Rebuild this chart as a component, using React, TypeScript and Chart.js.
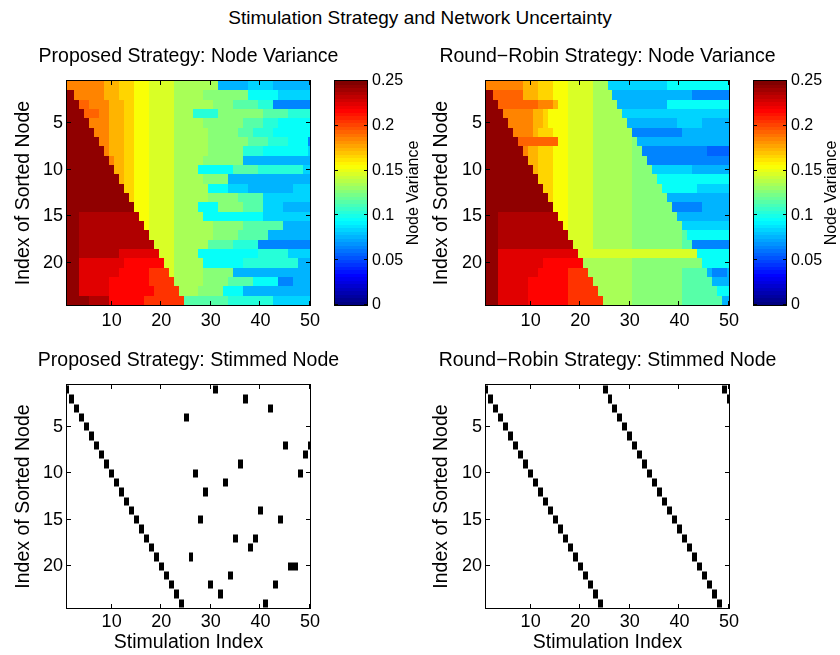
import React, { useEffect, useRef } from "react";
import { Chart, registerables } from "chart.js";
Chart.register(...registerables);

const FONT = "'Liberation Sans', Arial, Helvetica, sans-serif";

// ---------- data ----------
const stimulationIndex = [1,2,3,4,5,6,7,8,9,10,11,12,13,14,15,16,17,18,19,20,21,22,23,24,25,26,27,28,29,30,31,32,33,34,35,36,37,38,39,40,41,42,43,44,45,46,47,48,49,50];
const sortedNodeIndex = [1,2,3,4,5,6,7,8,9,10,11,12,13,14,15,16,17,18,19,20,21,22,23,24];
const xTickValues = [10, 20, 30, 40, 50];
const yTickValues = [5, 10, 15, 20];
const colorbarTicks = [0, 0.05, 0.1, 0.15, 0.2, 0.25];
const varianceRange = [0, 0.25];

// quantised variance levels
const levelCodes = "ABCDEFGHIJKLMNOPQRST";
const levelValues = [0.245, 0.235, 0.225, 0.215, 0.205, 0.195, 0.185, 0.175, 0.165, 0.155, 0.145, 0.135, 0.125, 0.115, 0.105, 0.095, 0.085, 0.075, 0.065, 0.055];

// each row: run-length list "<level><count>" across the 50 stimulation steps
const proposedVariance = [
  "G8 H3 I3 J3 K5 L9 R6 Q5 R8",
  "A2 G6 H3 I3 J3 K5 L6 M9 P6 Q7",
  "A3 F2 G4 H3 I2 J3 K5 L8 M4 N5 O3 S8",
  "A4 F3 G2 H3 I2 J3 K5 L4 O5 M9 N5 O5",
  "A5 G4 H3 I2 J3 K5 L6 M8 N4 O3 P7",
  "A6 G3 H3 I2 J3 K5 L7 M6 N3 O4 P8",
  "A7 G2 H3 I2 J3 K5 L7 M8 N4 O4 P4 S1",
  "A8 G1 H3 I2 J3 K5 L7 M7 O4 P9 Q1",
  "A9 G1 H2 I2 J3 K5 L6 M8 R14",
  "A10 H2 I2 J3 K5 L5 P7 N5 O9 Q2",
  "A11 H1 I2 J3 K5 L6 M5 R17",
  "A12 I2 J3 K5 L7 P4 Q4 R9 Q4",
  "A13 I1 J3 K5 L7 M6 N5 Q10",
  "A14 J3 K5 L5 P4 M5 N4 Q4 R6",
  "A3 B12 J2 K5 L6 P12 Q10",
  "A3 B13 J1 K5 L8 M6 N8 R6",
  "A3 B14 K5 L8 M5 N6 R9",
  "A3 B15 K4 L7 N5 O5 S11",
  "A3 B8 C8 K3 L5 P12 O6 Q5",
  "A3 C9 D8 K2 L6 P8 O11 R3",
  "A3 C8 D6 E4 K1 L6 M6 R16",
  "A3 C6 D8 E5 L6 M5 N5 P5 S3 R4",
  "A3 C6 D9 E5 L4 M5 P4 R14",
  "A5 B4 D7 E8 N9 O9 Q8",
];

const roundRobinVariance = [
  "G8 H3 I3 J3 K5 L3 Q12 P13",
  "A2 F6 H3 I3 J3 K5 L4 R16 S8",
  "A3 F8 G3 H1 J2 K5 L5 R10 P13",
  "A4 G6 H2 I1 J4 K5 L6 Q22",
  "A5 G5 H2 I1 J4 K5 L7 R10 Q5 R6",
  "A6 G4 H1 I3 J3 K5 L8 S10 R10",
  "A7 F8 J2 K5 L8 M1 R19",
  "A8 G1 H2 I3 J3 K5 L8 M2 S13 T5",
  "A9 H2 I3 J3 K5 L8 M3 S17",
  "A10 H1 I3 J3 K5 L8 M4 Q8 R8",
  "A11 I3 J3 K5 L8 M5 P15",
  "A12 I2 J3 K5 L8 M6 P7 Q7",
  "A13 I1 J3 K5 L8 M7 R13",
  "A14 J3 K5 L8 M8 S6 R6",
  "A3 B12 J2 K5 L8 M9 R11",
  "A3 B13 J1 K5 L8 M10 Q10",
  "A3 B14 K5 L8 M10 N1 P9",
  "A3 B15 K4 L8 M10 N2 S8",
  "A3 C16 K24 P7",
  "A3 C9 D8 L10 M14 P6",
  "A3 C8 D6 E4 L9 M10 N5 R1 S3 R1",
  "A3 C6 D8 E5 L8 M10 N6 R4",
  "A3 C6 D8 E6 L7 M10 N7 P3",
  "A3 C6 D8 E7 L6 M10 N8 R2",
];

const proposedStimmedNode = [1,2,3,4,5,6,7,8,9,10,11,12,13,14,15,16,17,18,19,20,21,22,23,24,4,19,10,15,12,22,1,23,11,21,17,9,2,18,17,14,24,3,22,15,7,20,20,10,8,7];
const roundRobinStimmedNode = [1,2,3,4,5,6,7,8,9,10,11,12,13,14,15,16,17,18,19,20,21,22,23,24,1,2,3,4,5,6,7,8,9,10,11,12,13,14,15,16,17,18,19,20,21,22,23,24,1,2];

// ---------- helpers ----------
type Cell = { x: number; y: number; v: number };

function decodeRow(row: string): number[] {
  const out: number[] = [];
  row.split(" ").forEach((tok) => {
    const lvl = levelValues[levelCodes.indexOf(tok[0])];
    const n = parseInt(tok.slice(1), 10);
    for (let i = 0; i < n; i++) out.push(lvl);
  });
  return out;
}

function varianceCells(rows: string[]): Cell[] {
  const cells: Cell[] = [];
  rows.forEach((row, ri) => {
    decodeRow(row).forEach((v, ci) => cells.push({ x: stimulationIndex[ci], y: sortedNodeIndex[ri], v }));
  });
  return cells;
}

function stimCells(nodes: number[]): Cell[] {
  return nodes.map((n, i) => ({ x: stimulationIndex[i], y: n, v: 1 }));
}

function jetRGB(t: number): string {
  const c = (x: number) => Math.round(255 * Math.min(1, Math.max(0, x)));
  return `rgb(${c(1.5 - Math.abs(4 * t - 3))},${c(1.5 - Math.abs(4 * t - 2))},${c(1.5 - Math.abs(4 * t - 1))})`;
}
function jetForValue(v: number): string {
  const t = (v - varianceRange[0]) / (varianceRange[1] - varianceRange[0]);
  const idx = Math.min(63, Math.max(0, Math.floor(t * 64)));
  return jetRGB(idx / 63);
}

// ---------- plugins ----------
const heatmapPlugin = {
  id: "heatmap",
  beforeDatasetsDraw(chart: any, _args: any, opts: any) {
    const { ctx, chartArea: a, scales } = chart;
    const xs = scales.x, ys = scales.y;
    const data: Cell[] = chart.data.datasets[0].data;
    ctx.save();
    ctx.beginPath();
    ctx.rect(a.left, a.top, a.right - a.left, a.bottom - a.top);
    ctx.clip();
    for (const c of data) {
      const x0 = Math.round(xs.getPixelForValue(c.x - 0.5));
      const x1 = Math.round(xs.getPixelForValue(c.x + 0.5));
      const y0 = Math.round(ys.getPixelForValue(c.y - 0.5));
      const y1 = Math.round(ys.getPixelForValue(c.y + 0.5));
      const l = Math.min(x0, x1), t = Math.min(y0, y1), w = Math.abs(x1 - x0), h = Math.abs(y1 - y0);
      if (opts.mode === "binary") {
        ctx.fillStyle = "#000";
        ctx.fillRect(l, t + 0.5, w, h - 1);
      } else {
        ctx.fillStyle = jetForValue(c.v);
        ctx.fillRect(l, t, w, h);
      }
    }
    ctx.restore();
  },
};

const colorbarPlugin = {
  id: "colorbar",
  beforeDatasetsDraw(chart: any) {
    const { ctx, chartArea: a, scales } = chart;
    const ys = scales.y;
    const span = varianceRange[1] - varianceRange[0];
    ctx.save();
    for (let i = 0; i < 64; i++) {
      const y0 = Math.round(ys.getPixelForValue(varianceRange[0] + (span * i) / 64));
      const y1 = Math.round(ys.getPixelForValue(varianceRange[0] + (span * (i + 1)) / 64));
      ctx.fillStyle = jetRGB(i / 63);
      ctx.fillRect(a.left, Math.min(y0, y1), a.right - a.left, Math.abs(y1 - y0));
    }
    ctx.restore();
  },
};

const framePlugin = {
  id: "frame",
  afterDraw(chart: any, _args: any, opts: any) {
    const { ctx, chartArea: a, scales } = chart;
    const L = opts.tickLen ?? 4;
    ctx.save();
    ctx.strokeStyle = "#000";
    ctx.lineWidth = 1;
    ctx.beginPath();
    (opts.xTicks || []).forEach((v: number) => {
      const px = Math.round(scales.x.getPixelForValue(v)) - 0.5;
      ctx.moveTo(px, a.top); ctx.lineTo(px, a.top + L);
      ctx.moveTo(px, a.bottom); ctx.lineTo(px, a.bottom - L);
    });
    (opts.yTicks || []).forEach((v: number) => {
      const py = Math.round(scales.y.getPixelForValue(v)) - 0.5;
      ctx.moveTo(a.left, py); ctx.lineTo(a.left + L, py);
      ctx.moveTo(a.right, py); ctx.lineTo(a.right - L, py);
    });
    ctx.stroke();
    ctx.strokeRect(a.left - 0.5, a.top - 0.5, a.right - a.left + 1, a.bottom - a.top + 1);
    ctx.fillStyle = "#000";
    ctx.textAlign = "center";
    ctx.textBaseline = "middle";
    if (opts.panelTitle) {
      ctx.font = `19.5px ${FONT}`;
      ctx.fillText(opts.panelTitle, (a.left + a.right) / 2, a.top - opts.panelTitleGap);
    }
    if (opts.sideLabel) {
      ctx.font = `16px ${FONT}`;
      ctx.translate(a.right + opts.sideLabelOffset, (a.top + a.bottom) / 2);
      ctx.rotate(-Math.PI / 2);
      ctx.fillText(opts.sideLabel, 0, 0);
    }
    ctx.restore();
  },
};

// ---------- components ----------
type PanelProps = {
  left: number; top: number; width: number; height: number;
  title: string; cells: Cell[]; mode: "jet" | "binary";
  yAxisWidth: number; xAxisHeight: number; padTop: number; padRight: number;
  yTitlePad: number; showXTitle: boolean; xTickPad: number;
};

function HeatPanel(p: PanelProps) {
  const ref = useRef<HTMLCanvasElement>(null);
  useEffect(() => {
    const tickFont = { family: FONT, size: 18 };
    const chart = new Chart(ref.current as HTMLCanvasElement, {
      type: "scatter",
      data: { datasets: [{ data: p.cells as any, pointRadius: 0, pointHoverRadius: 0 }] },
      options: {
        animation: false,
        responsive: false,
        events: [],
        layout: { padding: { left: 0, right: p.padRight, top: p.padTop, bottom: 0 } },
        plugins: {
          legend: { display: false },
          tooltip: { enabled: false },
          title: { display: false },
          heatmap: { mode: p.mode },
          frame: { xTicks: xTickValues, yTicks: yTickValues, tickLen: 4, panelTitle: p.title, panelTitleGap: 24 },
        } as any,
        scales: {
          x: {
            type: "linear", min: 1, max: 50,
            grid: { display: false, drawTicks: false }, border: { display: false },
            ticks: { color: "#000", font: tickFont, padding: p.xTickPad, autoSkip: false, maxRotation: 0, callback: (v: any) => String(v) },
            afterBuildTicks: (s: any) => { s.ticks = xTickValues.map((v) => ({ value: v })); },
            afterFit: (s: any) => { s.height = p.xAxisHeight; s.paddingLeft = 0; s.paddingRight = 0; },
            title: { display: p.showXTitle, text: "Stimulation Index", color: "#000", font: { family: FONT, size: 19.5 }, padding: { top: 0, bottom: 1 } },
          },
          y: {
            type: "linear", min: 0.5, max: 24.5, reverse: true,
            grid: { display: false, drawTicks: false }, border: { display: false },
            ticks: { color: "#000", font: tickFont, padding: 4, autoSkip: false, callback: (v: any) => String(v) },
            afterBuildTicks: (s: any) => { s.ticks = yTickValues.map((v) => ({ value: v })); },
            afterFit: (s: any) => { s.width = p.yAxisWidth; s.paddingTop = 0; s.paddingBottom = 0; },
            title: { display: true, text: "Index of Sorted Node", color: "#000", font: { family: FONT, size: 19.5 }, padding: { top: p.yTitlePad, bottom: 0 } },
          },
        } as any,
      },
      plugins: [heatmapPlugin, framePlugin],
    });
    return () => chart.destroy();
  }, []);
  return (
    <canvas ref={ref} width={p.width} height={p.height}
      style={{ position: "absolute", left: p.left, top: p.top, width: p.width, height: p.height }} />
  );
}

type BarProps = { left: number; top: number; width: number; height: number; padLeft: number; padTop: number; padBottom: number; axisWidth: number; labelOffset: number };

function ColorBar(p: BarProps) {
  const ref = useRef<HTMLCanvasElement>(null);
  useEffect(() => {
    const chart = new Chart(ref.current as HTMLCanvasElement, {
      type: "scatter",
      data: { datasets: [{ data: [], pointRadius: 0 }] },
      options: {
        animation: false,
        responsive: false,
        events: [],
        layout: { padding: { left: p.padLeft, right: 0, top: p.padTop, bottom: p.padBottom } },
        plugins: {
          legend: { display: false },
          tooltip: { enabled: false },
          frame: { yTicks: colorbarTicks, tickLen: 3, sideLabel: "Node Variance", sideLabelOffset: p.labelOffset },
        } as any,
        scales: {
          x: { type: "linear", display: false, min: 0, max: 1 },
          y: {
            type: "linear", position: "right", min: varianceRange[0], max: varianceRange[1],
            grid: { display: false, drawTicks: false }, border: { display: false },
            ticks: { color: "#000", font: { family: FONT, size: 16 }, padding: 5, autoSkip: false, callback: (v: any) => String(v) },
            afterBuildTicks: (s: any) => { s.ticks = colorbarTicks.map((v) => ({ value: v })); },
            afterFit: (s: any) => { s.width = p.axisWidth; s.paddingTop = 0; s.paddingBottom = 0; },
          },
        } as any,
      },
      plugins: [colorbarPlugin, framePlugin],
    });
    return () => chart.destroy();
  }, []);
  return (
    <canvas ref={ref} width={p.width} height={p.height}
      style={{ position: "absolute", left: p.left, top: p.top, width: p.width, height: p.height }} />
  );
}

export default function App() {
  const pv = varianceCells(proposedVariance);
  const rv = varianceCells(roundRobinVariance);
  const ps = stimCells(proposedStimmedNode);
  const rs = stimCells(roundRobinStimmedNode);
  return (
    <div style={{ position: "fixed", left: 0, top: 0, width: 840, height: 655, background: "#fff", overflow: "hidden" }}>
      <div style={{ position: "absolute", left: 0, top: 6, width: 840, textAlign: "center", fontFamily: FONT, fontSize: 19, lineHeight: "24px", color: "#000" }}>
        Stimulation Strategy and Network Uncertainty
      </div>
      <HeatPanel left={0} top={30} width={420} height={310} title="Proposed Strategy: Node Variance" cells={pv} mode="jet"
        yAxisWidth={67} xAxisHeight={35} padTop={51} padRight={110} yTitlePad={12} showXTitle={false} xTickPad={5} />
      <ColorBar left={320} top={30} width={110} height={310} padLeft={15} padTop={51} padBottom={35} axisWidth={63} labelOffset={47} />
      <HeatPanel left={420} top={30} width={420} height={310} title="Round−Robin Strategy: Node Variance" cells={rv} mode="jet"
        yAxisWidth={66} xAxisHeight={35} padTop={51} padRight={111} yTitlePad={10} showXTitle={false} xTickPad={5} />
      <ColorBar left={740} top={30} width={100} height={310} padLeft={14} padTop={51} padBottom={35} axisWidth={54} labelOffset={46} />
      <HeatPanel left={0} top={335} width={420} height={320} title="Proposed Strategy: Stimmed Node" cells={ps} mode="binary"
        yAxisWidth={67} xAxisHeight={47} padTop={50} padRight={110} yTitlePad={12} showXTitle={true} xTickPad={3} />
      <HeatPanel left={420} top={335} width={420} height={320} title="Round−Robin Strategy: Stimmed Node" cells={rs} mode="binary"
        yAxisWidth={66} xAxisHeight={47} padTop={50} padRight={111} yTitlePad={10} showXTitle={true} xTickPad={3} />
    </div>
  );
}
